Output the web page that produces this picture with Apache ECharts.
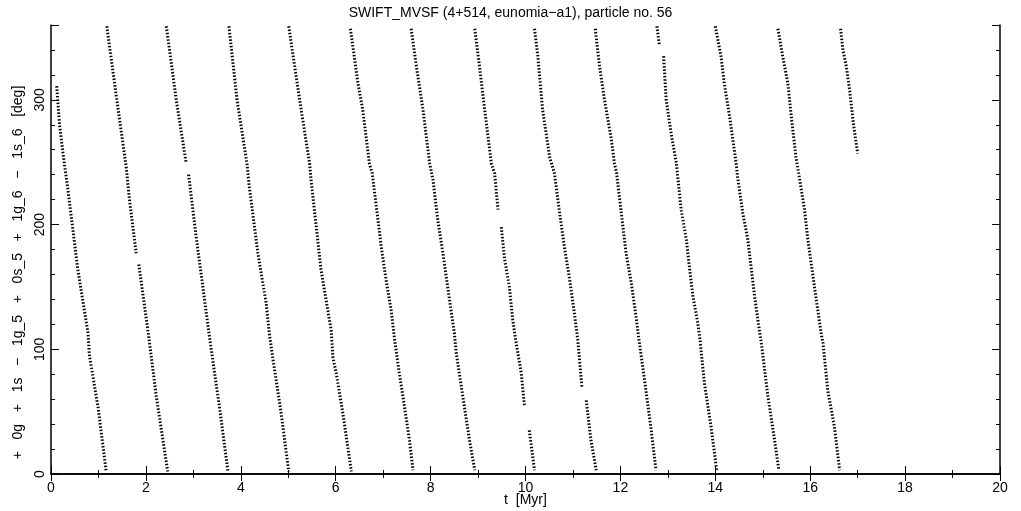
<!DOCTYPE html>
<html>
<head>
<meta charset="utf-8">
<script src="https://cdn.jsdelivr.net/npm/echarts@6/dist/echarts.min.js"></script>
<style>
html,body{margin:0;padding:0;background:#fff;}
#chart{width:1021px;height:511px;}
</style>
</head>
<body>
<div id="chart"></div>
<script>
// Tick labels
const xTickLabels = ['0','2','4','6','8','10','12','14','16','18','20'];
const yTickLabels = ['0','100','200','300'];

// Streaks: [t (Myr), angle (deg)]; null marks a gap
const streak1 = [[0.12,311],[0.18,280],[0.28,249],[0.35,230],[0.565,164],[0.78,113],[0.81,95],[0.99,54],[1.16,3]];
const streak2 = [[1.176,359],[1.387,300],[1.585,246],[1.654,220],[1.795,177],null,[1.85,168],[2.05,113],[2.22,62],[2.46,2]];
const streak3 = [[2.43,359],[2.64,300],[2.85,249],null,[2.90,240],[3.06,190],[3.20,150],[3.34,110],[3.41,91],[3.55,54],[3.73,2]];
const streak4 = [[3.75,359],[3.92,300],[4.13,249],[4.18,230],[4.36,177],[4.535,137],[4.60,113],[4.67,94],[4.85,49],[5.01,2]];
const streak5 = [[5.01,359],[5.24,300],[5.45,249],[5.48,236],[5.69,164],[5.905,115],[5.94,94],[6.01,81],[6.15,49],[6.33,2]];
const streak6 = [[6.31,357],[6.47,313],[6.57,292],[6.71,249],[6.77,241],[6.89,204],[6.96,182],[7.06,156],[7.17,131],[7.24,108],[7.34,81],[7.45,54],[7.555,27],[7.63,3]];
const streak7 = [[7.59,357],[7.70,327],[7.84,292],[7.98,249],[8.05,236],[8.15,204],[8.26,177],[8.36,150],[8.50,113],[8.54,97],[8.68,62],[8.82,27],[8.93,3]];
const streak8 = [[8.93,357],[9.03,327],[9.14,292],[9.28,249],[9.35,241],[9.42,212],null,[9.49,198],[9.56,172],[9.66,150],[9.73,124],[9.79,108],[9.91,81],[9.98,54],null,[10.08,35],[10.19,3]];
const streak9 = [[10.19,357],[10.26,335],[10.36,292],[10.51,254],[10.61,241],[10.72,209],[10.82,182],[10.93,156],[11.03,129],[11.10,108],[11.19,69],null,[11.28,59],[11.38,27],[11.49,3]];
const streak10 = [[11.47,357],[11.56,327],[11.665,300],[11.81,268],[11.875,249],[11.92,241],[12.02,209],[12.12,177],[12.23,153],[12.33,126],[12.39,108],[12.51,75],[12.65,35],[12.75,3]];
const streak11 = [[12.77,359],[12.82,344],null,[12.91,335],[12.965,300],[13.07,273],[13.18,249],[13.28,212],[13.39,188],[13.46,164],[13.53,142],[13.63,121],[13.68,107],[13.77,73],[13.91,38],[14.03,3]];
const streak12 = [[14.00,359],[14.12,335],[14.19,313],[14.30,287],[14.44,249],[14.47,238],[14.58,209],[14.685,188],[14.76,164],[14.83,142],[14.93,115],[14.97,105],[15.11,62],[15.25,27],[15.34,3]];
const streak13 = [[15.32,357],[15.42,335],[15.53,313],[15.60,287],[15.70,254],[15.77,238],[15.88,212],[15.95,188],[16.05,161],[16.12,142],[16.23,113],[16.27,105],[16.37,67],[16.51,38],[16.62,3]];
const streak14 = [[16.64,357],[16.69,340],[16.76,327],[16.83,308],[16.91,281],[17.00,257]];

const streaks = [streak1,streak2,streak3,streak4,streak5,streak6,streak7,streak8,streak9,streak10,streak11,streak12,streak13,streak14];

const FONT = 'Liberation Sans, Arial, sans-serif';
const chart = echarts.init(document.getElementById('chart'), null, {renderer:'canvas'});

const series = streaks.map(s => ({
  type: 'line',
  xAxisIndex: 0, yAxisIndex: 0,
  data: s.map(p => p === null ? [null, null] : p),
  connectNulls: false,
  showSymbol: false,
  symbol: 'none',
  silent: true,
  animation: false,
  lineStyle: {color: '#000', width: 3, type: [1.5, 1.8]}
}));

const axisLine = {show: true, lineStyle: {color: '#000', width: 1.5}};

chart.setOption({
  animation: false,
  backgroundColor: '#fff',
  title: {
    text: 'SWIFT_MVSF (4+514, eunomia\u2212a1), particle no. 56',
    left: 'center', top: 1,
    textStyle: {fontFamily: FONT, fontSize: 14, fontWeight: 'normal', color: '#000'}
  },
  grid: {left: 51, right: 21, top: 25, bottom: 37, containLabel: false, outerBoundsMode: 'none'},
  xAxis: [
    {
      type: 'value', position: 'bottom', min: 0, max: 20, interval: 2,
      name: 't  [Myr]', nameLocation: 'middle', nameGap: 19, nameMoveOverlap: false,
      nameTextStyle: {fontFamily: FONT, fontSize: 14, color: '#000'},
      axisLine: axisLine,
      axisTick: {show: true, inside: true, length: 8, lineStyle: {color: '#000', width: 1}},
      minorTick: {show: true, splitNumber: 2, length: 4, lineStyle: {color: '#000', width: 1}},
      axisLabel: {fontFamily: FONT, fontSize: 14, color: '#000', margin: 7,
        formatter: v => xTickLabels[Math.round(v / 2)] || ''},
      splitLine: {show: false}
    },
    {
      type: 'value', position: 'top', min: 0, max: 20, interval: 2,
      axisLine: axisLine,
      axisTick: {show: true, inside: true, length: 7, lineStyle: {color: '#000', width: 1}},
      minorTick: {show: true, splitNumber: 2, length: 4, lineStyle: {color: '#000', width: 1}},
      axisLabel: {show: false},
      splitLine: {show: false}
    }
  ],
  yAxis: [
    {
      type: 'value', position: 'left', min: 0, max: 360, interval: 100,
      name: '+   0g   +   1s   \u2212   1g_5   +   0s_5   +   1g_6   \u2212   1s_6   [deg]',
      nameLocation: 'middle', nameGap: 26, nameRotate: 90, nameMoveOverlap: false,
      nameTextStyle: {fontFamily: FONT, fontSize: 14, color: '#000', padding: [0, 46, 0, 0]},
      axisLine: axisLine,
      axisTick: {show: true, inside: true, length: 8, lineStyle: {color: '#000', width: 1}},
      axisLabel: {fontFamily: FONT, fontSize: 14, color: '#000', rotate: 90, margin: 4,
        formatter: v => { const i = Math.round(v / 100); return (v % 100 === 0 && yTickLabels[i]) ? yTickLabels[i] : ''; }},
      splitLine: {show: false}
    },
    {
      type: 'value', position: 'left', min: 0, max: 360, interval: 20,
      axisLine: {show: false},
      axisTick: {show: true, inside: true, length: 4, lineStyle: {color: '#000', width: 1}},
      axisLabel: {show: false},
      splitLine: {show: false}
    },
    {
      type: 'value', position: 'right', min: 0, max: 360, interval: 100,
      axisLine: axisLine,
      axisTick: {show: true, inside: true, length: 8, lineStyle: {color: '#000', width: 1}},
      axisLabel: {show: false},
      splitLine: {show: false}
    },
    {
      type: 'value', position: 'right', min: 0, max: 360, interval: 20,
      axisLine: {show: false},
      axisTick: {show: true, inside: true, length: 4, lineStyle: {color: '#000', width: 1}},
      axisLabel: {show: false},
      splitLine: {show: false}
    }
  ],
  series: series
});
</script>
</body>
</html>
